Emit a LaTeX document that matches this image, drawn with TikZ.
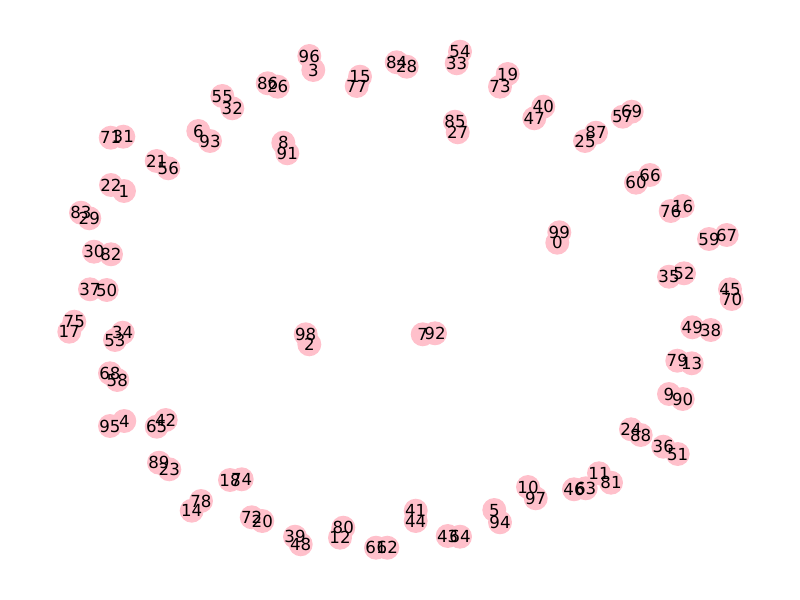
\documentclass[tikz,border=0pt]{standalone}
\usepackage{fontspec}
\setmainfont{DejaVu Sans}
\begin{document}
\begin{tikzpicture}[x=0.01in,y=-0.01in,
  dot/.style={circle,fill={rgb,255:red,255;green,192;blue,203},draw=none,inner sep=0pt,minimum size=17.32pt},
  lab/.style={inner sep=0pt,font=\fontsize{12}{14}\selectfont,text depth=0pt}]
\useasboundingbox (0,0) rectangle (800,600);
\foreach \n/\px/\py in {
71/110.7/137.7, 31/123.3/136.7, 55/222.3/96, 32/232.3/108.3, 86/267.7/83.3, 26/277.7/86.7,
6/198.3/131, 93/210/141, 21/156.7/161, 56/168.3/168.3, 22/111/185, 1/124/191,
8/283.3/142.7, 91/287.3/153.3, 96/309.3/56, 3/313.3/70, 15/360/76.7, 77/356.7/86,
84/396.7/62.3, 28/406.7/66.7, 54/460/51.7, 33/456.7/63.3, 19/507.7/74, 73/500/86.7,
85/455/121.7, 27/457.7/132.3, 40/543.3/106.7, 47/534.3/118.3, 57/622.7/116.7, 69/631.7/111.7,
87/596/132.7, 25/585/141, 66/650/175, 60/636/182.7, 16/682.7/206, 76/670.7/211,
83/81/212.7, 29/89.3/218.3, 30/94/251.7, 82/111/254.3, 37/90/289.3, 50/106.7/290,
75/74.3/321.7, 17/69.3/331.7, 34/122.7/332.7, 53/115/340, 68/110/373.3, 58/117.3/380,
98/305.7/334.3, 2/309.3/344.3, 7/422.7/334.3, 92/435/333.3,
99/559.3/232.3, 0/557.3/242.7, 59/709/239, 67/726.7/235, 35/669/276.7, 52/684/273.3,
45/730/289.3, 70/731.7/299, 49/692.3/327.3, 38/710.7/330, 79/677.3/360.7, 13/691.7/363.3,
9/669/394, 90/682.7/399,
95/110/426, 4/124.3/421, 65/156.7/426.7, 42/165.7/420, 89/159/462.7, 23/169.3/469.3,
18/230/480, 74/241.7/479.3, 78/201/501, 14/191.7/510.7, 72/251.7/517.3, 20/262.3/521,
39/295/536.7, 48/300.7/544.3, 80/343.3/527.7, 12/340/537.7, 61/376/547.7, 62/387.3/547.7,
41/415.7/510.7, 44/415.7/521, 43/447.7/536, 64/460/536.7, 5/494.3/510, 94/500/522.3,
10/528/487, 97/535.7/498.3,
24/631/429.3, 88/640.7/435, 36/663.3/446.7, 51/677.7/454, 11/599/473.3, 81/611/482.7,
46/574/489.3, 63/585.7/488.3}
  \node[dot] (n\n) at (\px,\py) {};
\foreach \n in {0,...,99}
  \node[lab] (l\n) at (n\n) {\n};
\end{tikzpicture}
\end{document}
